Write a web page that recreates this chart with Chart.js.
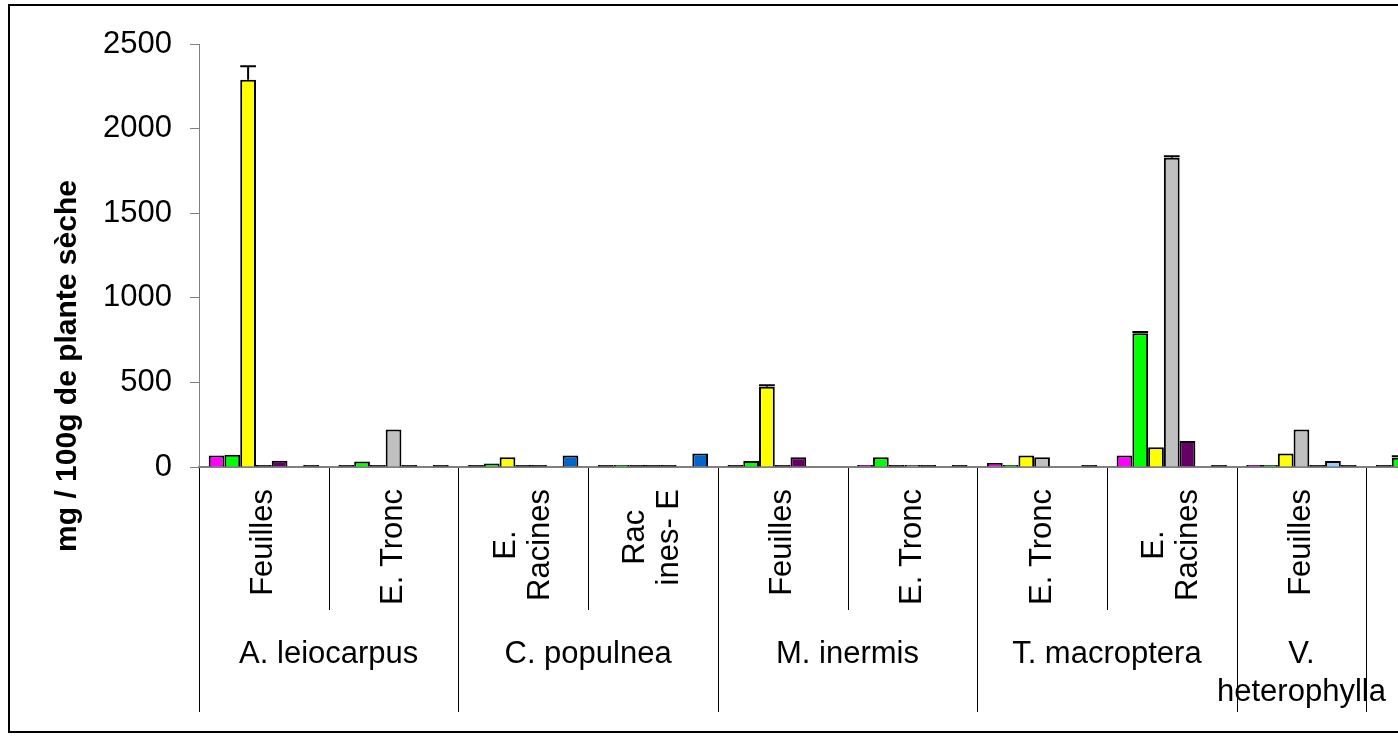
<!DOCTYPE html>
<html>
<head>
<meta charset="utf-8">
<script src="https://cdn.jsdelivr.net/npm/chart.js@4.4.0/dist/chart.umd.min.js"></script>
<style>
html, body { margin: 0; padding: 0; background: #fff; overflow: hidden; }
#frame { position: absolute; left: 8px; top: 4px; width: 1600px; height: 725px; border: 2px solid #000; }
#chart { position: absolute; left: 0; top: 0; }
</style>
</head>
<body>
<div id="frame"></div>
<canvas id="chart" width="1530" height="744"></canvas>
<script>
// Données (mg / 100g de plante sèche)
const subLabels = ['Feuilles', 'E. Tronc', ['E.', 'Racines'], ['Rac', 'ines- E'], 'Feuilles', 'E. Tronc', 'E. Tronc', ['E.', 'Racines'], 'Feuilles', ''];
const groupLabels = ['A. leiocarpus', 'C. populnea', 'M. inermis', 'T. macroptera', ['V.', 'heterophylla'], ''];
const groupSpans = [2, 2, 2, 2, 1, 1];
const yTitle = 'mg / 100g de plante sèche';

const seriesNames = ['Série 1', 'Série 2', 'Série 3', 'Série 4', 'Série 5', 'Série 6', 'Série 7'];
const seriesColors = ['#FF00FF', '#00FF00', '#FFFF00', '#C0C0C0', '#660066', '#99CCFF', '#0066CC'];

const s1 = [68, 0, 0, 0, 0, 12, 24, 68, 12, 0];
const s2 = [72, 33, 21, 12, 35, 57, 12, 790, 8, 55];
const s3 = [2288, 0, 57, 0, 475, 0, 68, 116, 80, null];
const s4 = [0, 222, 0, 0, 0, 12, 57, 1828, 222, null];
const s5 = [37, 0, 0, 0, 57, 0, null, 153, 0, null];
const s6 = [null, null, null, null, null, null, null, null, 35, null];
const s7 = [0, 0, 68, 80, null, 0, 0, 0, 0, null];

// barres d'erreur
const e1 = [0, 0, 0, 0, 0, 0, 0, 0, 0, 0];
const e2 = [0, 0, 0, 0, 0, 0, 0, 8, 0, 8];
const e3 = [80, 0, 0, 0, 8, 0, 0, 0, 0, 0];
const e4 = [0, 0, 0, 0, 0, 0, 0, 8, 0, 0];
const e5 = [0, 0, 0, 0, 0, 0, 0, 0, 0, 0];
const e6 = [0, 0, 0, 0, 0, 0, 0, 0, 0, 0];
const e7 = [0, 0, 0, 0, 0, 0, 0, 0, 0, 0];

const yTicks = [0, 500, 1000, 1500, 2000, 2500];

const allSeries = [s1, s2, s3, s4, s5, s6, s7];
const allErrors = [e1, e2, e3, e4, e5, e6, e7];

const FONT = '"Liberation Sans", Arial, sans-serif';
Chart.defaults.font.family = FONT;
Chart.defaults.color = '#000';

// barres d'erreur
const errorBars = {
    id: 'errorBars',
    afterDatasetsDraw(chart) {
        const ctx = chart.ctx;
        const y = chart.scales.y;
        ctx.save();
        ctx.strokeStyle = '#000';
        ctx.lineWidth = 2;
        allErrors.forEach((errs, i) => {
            const meta = chart.getDatasetMeta(i);
            meta.data.forEach((bar, j) => {
                const v = allSeries[i][j];
                if (v == null || !errs[j]) return;
                const top = y.getPixelForValue(v + errs[j]);
                const half = bar.width / 2;
                ctx.beginPath();
                ctx.moveTo(bar.x, bar.y);
                ctx.lineTo(bar.x, top);
                ctx.moveTo(bar.x - half, top);
                ctx.lineTo(bar.x + half, top);
                ctx.stroke();
            });
        });
        ctx.restore();
    }
};

// étiquettes à deux niveaux + titre de l'axe Y
const axisLabels = {
    id: 'axisLabels',
    afterDraw(chart) {
        const ctx = chart.ctx;
        const area = chart.chartArea;
        const x = chart.scales.x;
        const n = subLabels.length;
        const w = (area.right - area.left) / n;

        ctx.save();
        ctx.strokeStyle = '#000';
        ctx.lineWidth = 1;
        const starts = [0];
        groupSpans.forEach((s, k) => starts.push(starts[k] + s));
        for (let i = 0; i <= n; i++) {
            const px = Math.round(area.left + i * w) + 0.5;
            const full = starts.includes(i);
            ctx.beginPath();
            ctx.moveTo(px, area.bottom + 1);
            ctx.lineTo(px, area.bottom + (full ? 245 : 143));
            ctx.stroke();
        }

        // sous-catégories (verticales)
        ctx.fillStyle = '#000';
        ctx.font = '31px ' + FONT;
        ctx.textAlign = 'center';
        ctx.textBaseline = 'middle';
        subLabels.forEach((lab, i) => {
            const lines = Array.isArray(lab) ? lab : [lab];
            const maxW = Math.max(...lines.map(l => ctx.measureText(l).width));
            const cx = x.getPixelForValue(i);
            const cy = area.bottom + 22 + maxW / 2;
            ctx.save();
            ctx.translate(cx, cy);
            ctx.rotate(-Math.PI / 2);
            lines.forEach((l, k) => {
                ctx.fillText(l, 0, (k - (lines.length - 1) / 2) * 34);
            });
            ctx.restore();
        });

        // groupes
        ctx.textBaseline = 'alphabetic';
        groupLabels.forEach((lab, g) => {
            const lines = Array.isArray(lab) ? lab : [lab];
            const gx = area.left + (starts[g] + groupSpans[g] / 2) * w;
            lines.forEach((l, k) => {
                ctx.fillText(l, gx, area.bottom + 196 + k * 38);
            });
        });

        // titre Y
        ctx.font = 'bold 30px ' + FONT;
        ctx.translate(68, 366);
        ctx.rotate(-Math.PI / 2);
        ctx.textBaseline = 'middle';
        ctx.fillText(yTitle, 0, 0);
        ctx.restore();
    }
};

const datasets = allSeries.map((data, i) => ({
    label: seriesNames[i],
    data: data,
    backgroundColor: c => (c.raw === 0 ? '#000' : seriesColors[i]),
    borderColor: '#000',
    borderWidth: 2,
    minBarLength: 2,
    categoryPercentage: 0.85,
    barPercentage: 1.0
}));

new Chart(document.getElementById('chart'), {
    type: 'bar',
    data: {
        labels: subLabels.map((l, i) => 'c' + i),
        datasets: datasets
    },
    options: {
        responsive: false,
        animation: false,
        layout: { padding: { left: 0, top: 44, right: 34, bottom: 277 } },
        plugins: {
            legend: { display: false },
            tooltip: { enabled: false }
        },
        scales: {
            x: {
                grid: { display: false },
                ticks: { display: false },
                border: { color: '#808080', width: 2 },
                afterFit(scale) { scale.height = 0; }
            },
            y: {
                min: 0,
                max: 2500,
                afterBuildTicks(scale) { scale.ticks = yTicks.map(v => ({ value: v })); },
                ticks: { font: { size: 31 }, color: '#000', padding: 18, callback: v => String(v) },
                grid: { drawOnChartArea: false, drawTicks: true, tickLength: 9, color: '#808080' },
                border: { color: '#808080', width: 1 },
                afterFit(scale) { scale.width = 199; }
            }
        }
    },
    plugins: [errorBars, axisLabels]
});
</script>
</body>
</html>
